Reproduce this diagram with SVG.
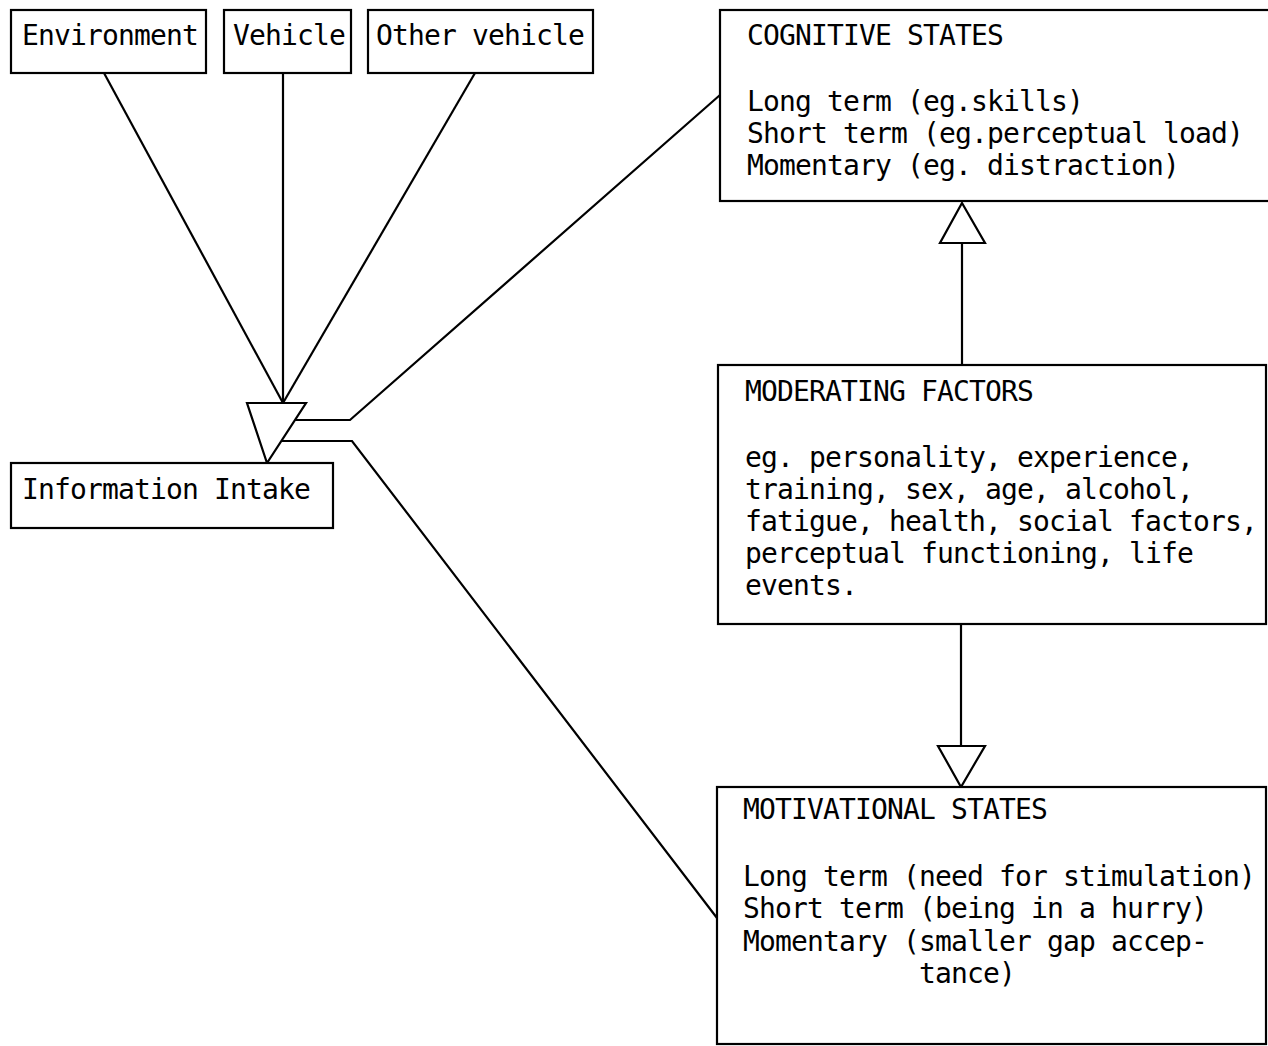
<svg xmlns="http://www.w3.org/2000/svg" width="1268" height="1046" viewBox="0 0 1268 1046">
<style>
rect.box{fill:#fff;stroke:#000;stroke-width:2.2}
text{font-family:"DejaVu Sans Mono","Liberation Mono",monospace;font-size:28px;letter-spacing:-0.86px;fill:#000}
.ln{fill:none;stroke:#000;stroke-width:2.2}
.tri{fill:#fff;stroke:#000;stroke-width:2.2;stroke-linejoin:miter}
</style>
<rect width="1268" height="1046" fill="#fff"/>
<g id="connectors">
<line class="ln" x1="104" y1="73" x2="283" y2="403"/>
<line class="ln" x1="283" y1="73" x2="283" y2="403"/>
<line class="ln" x1="475" y1="73" x2="283" y2="403"/>
<polyline class="ln" points="294,420 350,420 720,95"/>
<polyline class="ln" points="281,441 352,441 717,918"/>
<line class="ln" x1="962" y1="243" x2="962" y2="365"/>
<line class="ln" x1="961" y1="624" x2="961" y2="746"/>
<polygon class="tri" points="247,403 306,403 267,463"/>
<polygon class="tri" points="962,203 985,243 940,243"/>
<polygon class="tri" points="938,746 985,746 961,787"/>
</g>
<g id="environment">
<rect class="box" x="11" y="10" width="195" height="63"/>
<text x="22" y="45">Environment</text>
</g>
<g id="vehicle">
<rect class="box" x="224" y="10" width="127" height="63"/>
<text x="233" y="45">Vehicle</text>
</g>
<g id="other-vehicle">
<rect class="box" x="368" y="10" width="225" height="63"/>
<text x="376" y="45">Other vehicle</text>
</g>
<g id="information-intake">
<rect class="box" x="11" y="463" width="322" height="65"/>
<text x="22" y="499">Information Intake</text>
</g>
<g id="cognitive-states">
<rect class="box" x="720" y="10" width="560" height="191"/>
<text x="747" y="45">COGNITIVE STATES</text>
<text x="747" y="111">Long term (eg.skills)</text>
<text x="747" y="143">Short term (eg.perceptual load)</text>
<text x="747" y="175">Momentary (eg. distraction)</text>
</g>
<g id="moderating-factors">
<rect class="box" x="718" y="365" width="548" height="259"/>
<text x="745" y="401">MODERATING FACTORS</text>
<text x="745" y="467">eg. personality, experience,</text>
<text x="745" y="499">training, sex, age, alcohol,</text>
<text x="745" y="531">fatigue, health, social factors,</text>
<text x="745" y="563">perceptual functioning, life</text>
<text x="745" y="595">events.</text>
</g>
<g id="motivational-states">
<rect class="box" x="717" y="787" width="549" height="257"/>
<text x="743" y="819">MOTIVATIONAL STATES</text>
<text x="743" y="886">Long term (need for stimulation)</text>
<text x="743" y="918">Short term (being in a hurry)</text>
<text x="743" y="951">Momentary (smaller gap accep-</text>
<text x="919" y="983">tance)</text>
</g>
</svg>
